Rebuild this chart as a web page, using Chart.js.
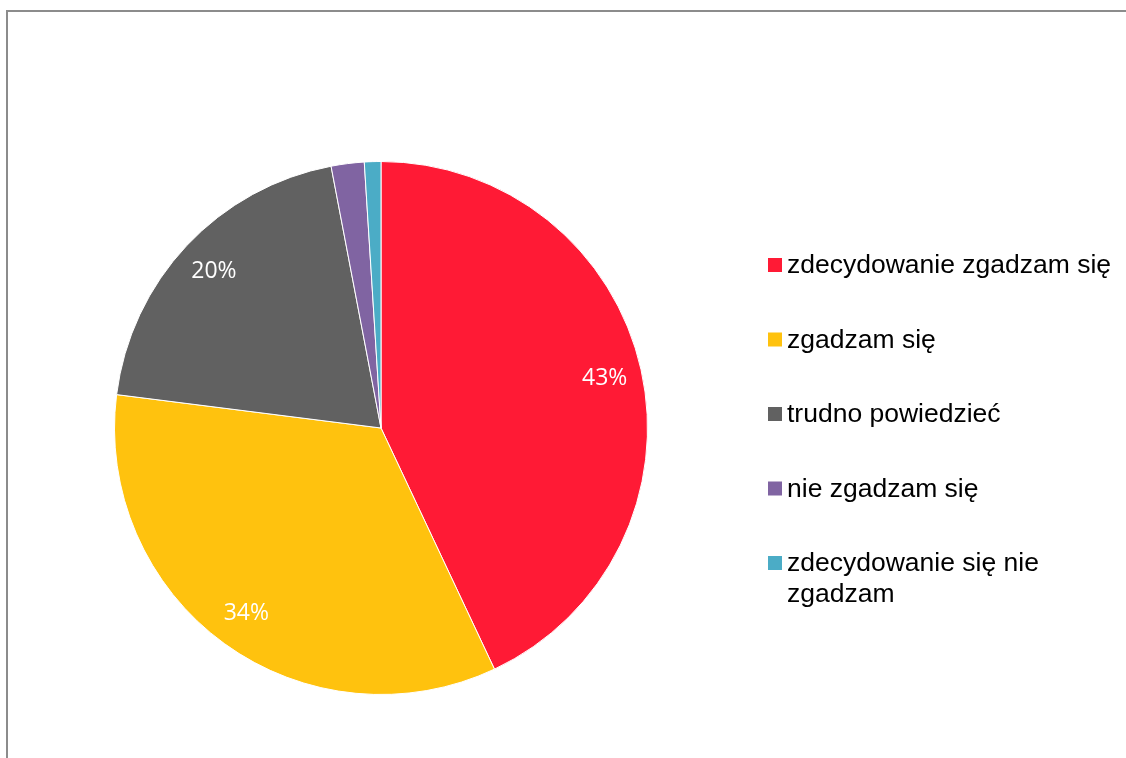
<!DOCTYPE html>
<html>
<head>
<meta charset="utf-8">
<script src="https://cdn.jsdelivr.net/npm/chart.js@4"></script>
<style>
  html, body { margin: 0; padding: 0; background: #fff; overflow: hidden; }
  #wrap { position: relative; width: 1126px; height: 758px; }
  #frame { position: absolute; left: 6px; top: 10px; width: 1200px; height: 800px; border: 2px solid #8c8c8c; box-sizing: border-box; }
  canvas { position: absolute; left: 0; top: 0; }
</style>
</head>
<body>
<div id="wrap">
  <div id="frame"></div>
  <canvas id="pieChart" width="1126" height="758"></canvas>
</div>
<script>
const labels = [
  "zdecydowanie zgadzam się",
  "zgadzam się",
  "trudno powiedzieć",
  "nie zgadzam się",
  "zdecydowanie się nie zgadzam",
];
const values = [43, 34, 20, 2, 1];
const colors = ["#FF1A35", "#FFC20E", "#616161", "#8064A2", "#4BACC6"];
const shownLabels = [true, true, true, false, false];

// white percentage labels inside the slices
const sliceLabels = {
  id: "sliceLabels",
  afterDatasetsDraw(chart) {
    const ctx = chart.ctx;
    const meta = chart.getDatasetMeta(0);
    ctx.save();
    ctx.fillStyle = "#ffffff";
    ctx.font = '23px "Open Sans"';
    ctx.textAlign = "center";
    ctx.textBaseline = "middle";
    meta.data.forEach((arc, i) => {
      if (!shownLabels[i]) return;
      const mid = (arc.startAngle + arc.endAngle) / 2;
      const r = arc.outerRadius * 0.86;
      ctx.fillText(values[i] + "%", arc.x + Math.cos(mid) * r, arc.y + Math.sin(mid) * r);
    });
    ctx.restore();
  },
};

// legend on the right, with word wrap
const sideLegend = {
  id: "sideLegend",
  afterDraw(chart) {
    const ctx = chart.ctx;
    const x = 768, y0 = 266, step = 74.5, box = 14, maxW = 330, lineH = 31;
    ctx.save();
    ctx.font = '26.5px "Liberation Sans", Arial, sans-serif';
    ctx.textBaseline = "middle";
    ctx.textAlign = "left";
    labels.forEach((text, i) => {
      const y = y0 + i * step;
      ctx.fillStyle = colors[i];
      ctx.fillRect(x, y - box / 2 - 1, box, box);
      // wrap words
      const words = text.split(" ");
      const lines = [];
      let line = "";
      words.forEach((w) => {
        const test = line ? line + " " + w : w;
        if (ctx.measureText(test).width > maxW && line) {
          lines.push(line);
          line = w;
        } else {
          line = test;
        }
      });
      lines.push(line);
      ctx.fillStyle = "#000000";
      lines.forEach((l, j) => ctx.fillText(l, x + 19, y + j * lineH));
    });
    ctx.restore();
  },
};

const ctx = document.getElementById("pieChart").getContext("2d");
new Chart(ctx, {
  type: "pie",
  data: {
    labels: labels,
    datasets: [
      {
        data: values,
        backgroundColor: colors,
        borderColor: "#ffffff",
        borderWidth: 1,
      },
    ],
  },
  options: {
    responsive: false,
    animation: false,
    layout: { padding: { left: 114, top: 161, right: 478, bottom: 63 } },
    plugins: {
      legend: { display: false },
      tooltip: { enabled: false },
    },
  },
  plugins: [sliceLabels, sideLegend],
});
</script>
</body>
</html>
